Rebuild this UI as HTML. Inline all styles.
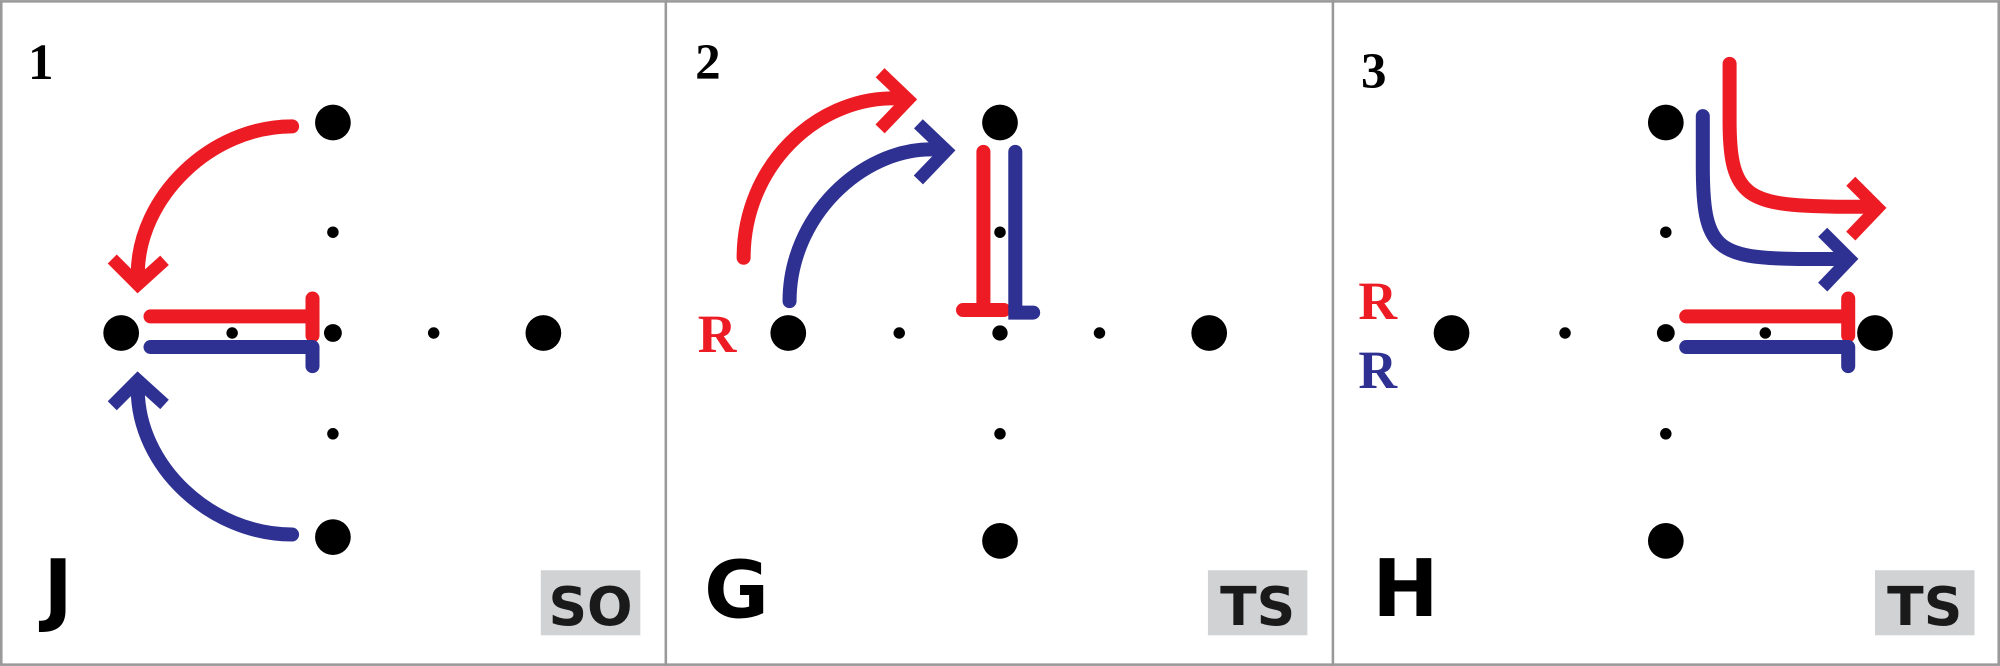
<!DOCTYPE html>
<html><head><meta charset="utf-8"><style>
html,body{margin:0;padding:0;background:#fff}
svg{display:block}
</style></head><body>
<svg width="2000" height="666" viewBox="0 0 1568 522" xmlns="http://www.w3.org/2000/svg">
<g fill="none" stroke="#999" stroke-width="2">
<rect x="1" y="1" width="1566" height="520"/>
<line x1="522" y1="0" x2="522" y2="522"/>
<line x1="1045" y1="0" x2="1045" y2="522"/>
</g>
<g font-family="Liberation Serif, serif" font-weight="bold" font-size="40">
<text x="22" y="62">1</text>
<text x="545" y="62">2</text>
<text x="1067" y="69">3</text>
</g>
<g>
<g>
<circle cx="261" cy="96" r="14"/><circle cx="95" cy="261" r="14"/><circle cx="426" cy="261" r="14"/><circle cx="261" cy="421" r="14"/>
<circle cx="261" cy="182" r="4.5"/><circle cx="182" cy="261" r="4.5"/><circle cx="340" cy="261" r="4.5"/><circle cx="261" cy="340" r="4.5"/>
<circle cx="261" cy="261" r="7"/>
</g>
<g fill="none" stroke-width="11" stroke-linecap="round">
<path d="M229,99 C165,99 108,155 108,215" stroke="#ed1c24"/>
<path d="M88,203 L108,223 L129,204" stroke="#ed1c24" stroke-linecap="butt" stroke-width="10"/>
<path d="M118,248 H244 M245,234 V263" stroke="#ed1c24"/>
<path d="M118,272 H244 M245,272 V287" stroke="#2e3192"/>
<path d="M229,419 C165,419 108,365 108,305" stroke="#2e3192"/>
<path d="M88,318 L108,298 L129,317" stroke="#2e3192" stroke-linecap="butt" stroke-width="10"/>
</g>
<text x="34" y="483" font-family="DejaVu Sans, sans-serif" font-weight="bold" font-size="62">J</text>
<rect x="424" y="447" width="78" height="51" fill="#d1d2d4"/>
<text x="463" y="490" text-anchor="middle" font-family="DejaVu Sans, sans-serif" font-weight="bold" font-size="42" fill="#1a1a1a">SO</text>
</g>
<g>
<g>
<circle cx="784" cy="96" r="14"/><circle cx="618" cy="261" r="14"/><circle cx="948" cy="261" r="14"/><circle cx="784" cy="424" r="14"/>
<circle cx="784" cy="182" r="4.5"/><circle cx="705" cy="261" r="4.5"/><circle cx="862" cy="261" r="4.5"/><circle cx="784" cy="340" r="4.5"/>
<circle cx="784" cy="261" r="6"/>
</g>
<g fill="none" stroke-width="11" stroke-linecap="round">
<path d="M583,202 C583,130 640,77 700,77" stroke="#ed1c24"/>
<path d="M690,57 L712,78 L690,101" stroke="#ed1c24" stroke-linecap="butt" stroke-width="10"/>
<path d="M619,236 C619,170 675,117 730,117" stroke="#2e3192"/>
<path d="M720,97 L742,118 L720,141" stroke="#2e3192" stroke-linecap="butt" stroke-width="10"/>
<path d="M771,119 V243 M755,243 H787" stroke="#ed1c24"/>
<path d="M796,119 V245 H810" stroke="#2e3192"/>
</g>
<text x="547" y="276" font-family="Liberation Serif, serif" font-weight="bold" font-size="42" fill="#ed1c24">R</text>
<text x="552" y="484" font-family="DejaVu Sans, sans-serif" font-weight="bold" font-size="62">G</text>
<rect x="947" y="447" width="78" height="51" fill="#d1d2d4"/>
<text x="986" y="490" text-anchor="middle" font-family="DejaVu Sans, sans-serif" font-weight="bold" font-size="42" fill="#1a1a1a">TS</text>
</g>
<g>
<g>
<circle cx="1306" cy="96" r="14"/><circle cx="1138" cy="261" r="14"/><circle cx="1470" cy="261" r="14"/><circle cx="1306" cy="424" r="14"/>
<circle cx="1306" cy="182" r="4.5"/><circle cx="1227" cy="261" r="4.5"/><circle cx="1384" cy="261" r="4.5"/><circle cx="1306" cy="340" r="4.5"/>
<circle cx="1306" cy="261" r="7"/>
</g>
<g fill="none" stroke-width="11" stroke-linecap="round">
<path d="M1356,50 V95 C1356,155 1370,161 1440,162 H1468" stroke="#ed1c24"/>
<path d="M1451,142 L1472,163 L1451,185" stroke="#ed1c24" stroke-linecap="butt" stroke-width="10"/>
<path d="M1335,91 V130 C1335,195 1345,202 1410,203 H1448" stroke="#2e3192"/>
<path d="M1429,182 L1450,203 L1429,225" stroke="#2e3192" stroke-linecap="butt" stroke-width="10"/>
<path d="M1322,248 H1448 M1449,234 V263" stroke="#ed1c24"/>
<path d="M1322,272 H1448 M1449,272 V287" stroke="#2e3192"/>
</g>
<text x="1065" y="250" font-family="Liberation Serif, serif" font-weight="bold" font-size="42" fill="#ed1c24">R</text>
<text x="1065" y="304" font-family="Liberation Serif, serif" font-weight="bold" font-size="42" fill="#2e3192">R</text>
<text x="1076" y="483" font-family="DejaVu Sans, sans-serif" font-weight="bold" font-size="62">H</text>
<rect x="1470" y="447" width="78" height="51" fill="#d1d2d4"/>
<text x="1509" y="490" text-anchor="middle" font-family="DejaVu Sans, sans-serif" font-weight="bold" font-size="42" fill="#1a1a1a">TS</text>
</g>
</svg>
</body></html>
